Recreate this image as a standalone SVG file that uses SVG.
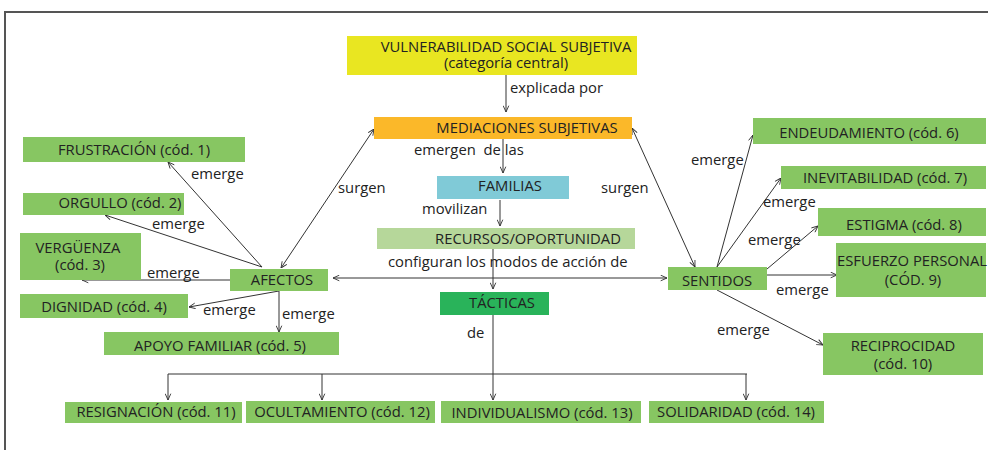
<svg xmlns="http://www.w3.org/2000/svg" width="988" height="450" viewBox="0 0 988 450">
<style>
.t{font-family:"Open Sans","Noto Sans",sans-serif;font-size:14.8px;fill:#222}
.c{text-anchor:middle}
.g{fill:#87c662}
.ln{fill:none;stroke:#333;stroke-width:1}
</style>
<defs>
<marker id="a" viewBox="0 0 10 10" refX="10" refY="5" markerWidth="7" markerHeight="7" markerUnits="userSpaceOnUse" orient="auto-start-reverse">
<path d="M1,1 L10,5 L1,9" fill="none" stroke="#333" stroke-width="1.3"/>
</marker>
</defs>
<rect width="988" height="450" fill="#fff"/>
<path d="M5,450 V12 H988" fill="none" stroke="#555" stroke-width="2"/>

<g id="connectors">
<path class="ln" d="M506,75 V112" marker-end="url(#a)"/>
<path class="ln" d="M503,139 V173" marker-end="url(#a)"/>
<path class="ln" d="M500,200 V226" marker-end="url(#a)"/>
<path class="ln" d="M493,249 V289" marker-end="url(#a)"/>
<path class="ln" d="M333,278 H667" marker-start="url(#a)" marker-end="url(#a)"/>
<path class="ln" d="M374,129 L281,268" marker-start="url(#a)" marker-end="url(#a)"/>
<path class="ln" d="M632,128 L695,267" marker-start="url(#a)" marker-end="url(#a)"/>
<path class="ln" d="M262,267 L168,162" marker-end="url(#a)"/>
<path class="ln" d="M262,267 L105,215" marker-end="url(#a)"/>
<path class="ln" d="M230,280 H82" marker-end="url(#a)"/>
<path class="ln" d="M279,291 L189,307" marker-end="url(#a)"/>
<path class="ln" d="M279,291 V332" marker-end="url(#a)"/>
<path class="ln" d="M717,267 L753,135" marker-end="url(#a)"/>
<path class="ln" d="M717,267 L781,178" marker-end="url(#a)"/>
<path class="ln" d="M767,269 L818,226" marker-end="url(#a)"/>
<path class="ln" d="M767,275 H837" marker-end="url(#a)"/>
<path class="ln" d="M717,290 L823,345" marker-end="url(#a)"/>
<path class="ln" d="M493,315 V374 M168,374 H747"/>
<path class="ln" d="M168,374 V400" marker-end="url(#a)"/>
<path class="ln" d="M322,374 V400" marker-end="url(#a)"/>
<path class="ln" d="M493,374 V400" marker-end="url(#a)"/>
<path class="ln" d="M746,374 V400" marker-end="url(#a)"/>
<text class="t" x="510" y="93">explicada por</text>
<text class="t" x="414" y="155" xml:space="preserve">emergen  de las</text>
<text class="t" x="422" y="214">movilizan</text>
<text class="t" x="388" y="267">configuran los modos de acción de</text>
<text class="t" x="338" y="193">surgen</text>
<text class="t" x="601" y="193">surgen</text>
<text class="t" x="467" y="338">de</text>
<text class="t" x="191" y="179">emerge</text>
<text class="t" x="152" y="229">emerge</text>
<text class="t" x="147" y="278">emerge</text>
<text class="t" x="203" y="315">emerge</text>
<text class="t" x="282" y="319">emerge</text>
<text class="t" x="691" y="165">emerge</text>
<text class="t" x="763" y="207">emerge</text>
<text class="t" x="748" y="245">emerge</text>
<text class="t" x="776" y="295">emerge</text>
<text class="t" x="717" y="335">emerge</text>
</g>

<g id="vulnerabilidad"><rect x="347" y="36" width="290" height="39" fill="#e9e621"/>
<text class="t c" x="506" y="52">VULNERABILIDAD SOCIAL SUBJETIVA</text>
<text class="t c" x="506" y="68">(categoría central)</text></g>
<g id="mediaciones"><rect x="374" y="117" width="258" height="22" fill="#fbb829"/>
<text class="t c" x="527" y="133">MEDIACIONES SUBJETIVAS</text></g>
<g id="familias"><rect x="437" y="176" width="132" height="23" fill="#80cad7"/>
<text class="t c" x="510" y="191">FAMILIAS</text></g>
<g id="recursos"><rect x="377" y="228" width="258" height="21" fill="#b6d79a"/>
<text class="t c" x="528" y="244">RECURSOS/OPORTUNIDAD</text></g>
<g id="tacticas"><rect x="440" y="292" width="109" height="23" fill="#29b35a"/>
<text class="t c" x="502" y="308">TÁCTICAS</text></g>
<g id="afectos"><rect class="g" x="230" y="269" width="98" height="22"/>
<text class="t c" x="282" y="285">AFECTOS</text></g>
<g id="sentidos"><rect class="g" x="668" y="267" width="99" height="23"/>
<text class="t c" x="717" y="286">SENTIDOS</text></g>

<g id="frustracion"><rect class="g" x="23" y="137" width="222" height="25"/>
<text class="t c" x="134" y="155">FRUSTRACIÓN (cód. 1)</text></g>
<g id="orgullo"><rect class="g" x="23" y="193" width="161" height="22"/>
<text class="t c" x="120" y="208">ORGULLO (cód. 2)</text></g>
<g id="verguenza"><rect class="g" x="20" y="233" width="121" height="47"/>
<text class="t c" x="78" y="253">VERGÜENZA</text>
<text class="t c" x="80" y="270">(cód. 3)</text></g>
<g id="dignidad"><rect class="g" x="20" y="294" width="168" height="24"/>
<text class="t c" x="104" y="312">DIGNIDAD (cód. 4)</text></g>
<g id="apoyo"><rect class="g" x="104" y="332" width="235" height="23"/>
<text class="t c" x="220" y="351">APOYO FAMILIAR (cód. 5)</text></g>

<g id="endeudamiento"><rect class="g" x="753" y="118" width="233" height="26"/>
<text class="t c" x="869" y="138">ENDEUDAMIENTO (cód. 6)</text></g>
<g id="inevitabilidad"><rect class="g" x="781" y="166" width="205" height="23"/>
<text class="t c" x="885" y="183">INEVITABILIDAD (cód. 7)</text></g>
<g id="estigma"><rect class="g" x="818" y="208" width="168" height="28"/>
<text class="t c" x="904" y="230">ESTIGMA (cód. 8)</text></g>
<g id="esfuerzo"><rect class="g" x="836" y="243" width="150" height="54"/>
<text class="t c" x="912" y="266">ESFUERZO PERSONAL</text>
<text class="t c" x="913" y="285">(CÓD. 9)</text></g>
<g id="reciprocidad"><rect class="g" x="823" y="333" width="160" height="42"/>
<text class="t c" x="903" y="351">RECIPROCIDAD</text>
<text class="t c" x="903" y="369">(cód. 10)</text></g>

<g id="resignacion"><rect class="g" x="65" y="402" width="177" height="21"/>
<text class="t c" x="156" y="417">RESIGNACIÓN (cód. 11)</text></g>
<g id="ocultamiento"><rect class="g" x="246" y="401" width="189" height="22"/>
<text class="t c" x="342" y="417">OCULTAMIENTO (cód. 12)</text></g>
<g id="individualismo"><rect class="g" x="441" y="401" width="200" height="22"/>
<text class="t c" x="542" y="418">INDIVIDUALISMO (cód. 13)</text></g>
<g id="solidaridad"><rect class="g" x="649" y="401" width="175" height="22"/>
<text class="t c" x="736" y="417">SOLIDARIDAD (cód. 14)</text></g>
</svg>
